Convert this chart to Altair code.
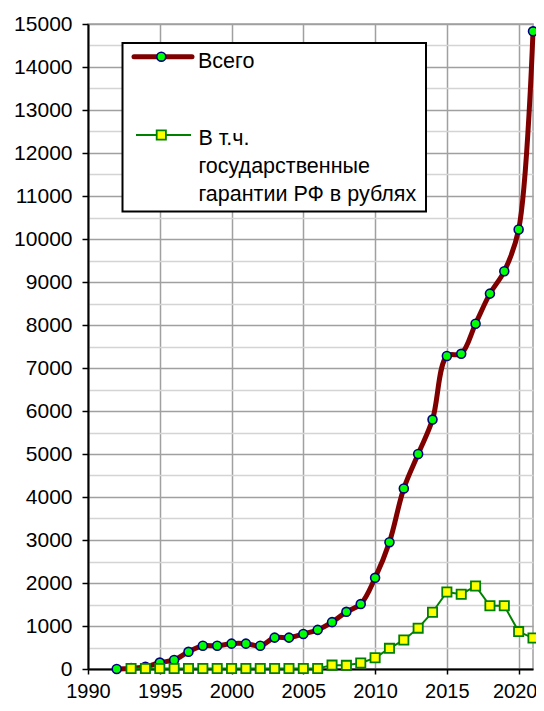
import altair as alt
import pandas as pd

# ---- data ----
years_total = list(range(1992, 2022))
total = [0, 20, 50, 150, 210, 400, 540, 540, 590, 590, 540, 730, 730, 815, 910,
         1090, 1330, 1510, 2120, 2950, 4200, 5000, 5800, 7280, 7330, 8030, 8730,
         9250, 10220, 14830]

years_guar = list(range(1993, 2022))
guarantees = [10, 10, 10, 10, 10, 10, 10, 10, 10, 10, 10, 10, 10, 10,
              90, 85, 140, 260, 480, 675, 950, 1320, 1790, 1740, 1930, 1470,
              1470, 870, 720]

x_ticks = [1990, 1995, 2000, 2005, 2010, 2015, 2020]
y_ticks = list(range(0, 15001, 500))

legend_total = "Всего"
legend_guar = ["В т.ч.", "государственные", "гарантии РФ в рублях"]

df_total = pd.DataFrame({"year": years_total, "value": total})
df_guar = pd.DataFrame({"year": years_guar, "value": guarantees})
one = pd.DataFrame({"k": [0]})

FONT = "Liberation Sans"
major = "datum.value % 1000 === 0"

X = alt.X(
    "year:Q",
    scale=alt.Scale(domain=[1990, 2021], nice=False, zero=False),
    axis=alt.Axis(
        values=x_ticks, format="d", title=None,
        labelFont=FONT, labelFontSize=20, labelColor="black",
        labelFlush=False, labelOverlap=False,
        labelBaseline="alphabetic", labelPadding=23,
        labelOffset={"condition": {"test": "datum.value === 2020", "value": -4}, "value": 0},
        tickSize=5, tickColor="black", tickWidth=1.5,
        domainColor="black", domainWidth=2,
        grid=True, gridColor="#a0a0a0", gridWidth=1.5,
    ),
)
Y = alt.Y(
    "value:Q",
    scale=alt.Scale(domain=[0, 15000], nice=False),
    axis=alt.Axis(
        values=y_ticks, format="d", title=None,
        labelExpr=f"{major} ? datum.label : ''",
        labelFont=FONT, labelFontSize=21, labelColor="black",
        labelPadding=10, labelOverlap=False,
        tickSize=6, tickColor="black", tickWidth=1.5,
        tickOpacity={"condition": {"test": major, "value": 1}, "value": 0},
        domainColor="black", domainWidth=2,
        grid=True, gridWidth=1.5,
        gridColor={"condition": {"test": major, "value": "#a0a0a0"}, "value": "#d4d4d4"},
    ),
)

red_line = alt.Chart(df_total).mark_line(
    color="#800000", strokeWidth=5, interpolate="catmull-rom"
).encode(x=X, y=Y)
red_pts = alt.Chart(df_total).mark_point(
    shape="circle", filled=True, fill="#00ff00", stroke="#000080",
    strokeWidth=1.6, size=80, opacity=1
).encode(x=X, y=Y)
green_line = alt.Chart(df_guar).mark_line(
    color="#008000", strokeWidth=2
).encode(x=X, y=Y)
green_pts = alt.Chart(df_guar).mark_point(
    shape="square", filled=True, fill="#ffff00", stroke="#008000",
    strokeWidth=1.8, size=85, opacity=1
).encode(x=X, y=Y)

# ---- custom legend box ----
leg_box = alt.Chart(one).mark_rect(
    fill="white", stroke="black", strokeWidth=2
).encode(x=alt.value(34.5), x2=alt.value(338), y=alt.value(19), y2=alt.value(187.5))
leg_line1 = alt.Chart(one).mark_rule(
    color="#800000", strokeWidth=5, strokeCap="round"
).encode(x=alt.value(46), x2=alt.value(104), y=alt.value(32.7))
leg_pt1 = alt.Chart(one).mark_point(
    shape="circle", filled=True, fill="#00ff00", stroke="#000080",
    strokeWidth=1.6, size=80, opacity=1
).encode(x=alt.value(73.3), y=alt.value(32.7))
leg_txt1 = alt.Chart(one).mark_text(
    font=FONT, fontSize=21.5, align="left", baseline="alphabetic", color="black"
).encode(x=alt.value(110), y=alt.value(44), text=alt.value(legend_total))
leg_line2 = alt.Chart(one).mark_rule(
    color="#008000", strokeWidth=2
).encode(x=alt.value(48), x2=alt.value(103), y=alt.value(111))
leg_pt2 = alt.Chart(one).mark_point(
    shape="square", filled=True, fill="#ffff00", stroke="#008000",
    strokeWidth=1.8, size=85, opacity=1
).encode(x=alt.value(73.3), y=alt.value(111))
leg_txt2 = alt.Chart(one).mark_text(
    font=FONT, fontSize=21.5, align="left", baseline="alphabetic", color="black",
    lineHeight=28.4
).encode(x=alt.value(110.5), y=alt.value(120.5), text=alt.value(legend_guar))

chart = alt.layer(
    red_line, red_pts, green_line, green_pts,
    leg_box, leg_line1, leg_pt1, leg_txt1, leg_line2, leg_pt2, leg_txt2,
).properties(
    width=445, height=645,
    autosize=alt.AutoSizeParams(type="none"),
    padding={"left": 80, "top": 16, "right": 3, "bottom": 34},
    background="white",
).configure_view(stroke="#a0a0a0", strokeWidth=1.5)

chart.save("out.html", embed_options={"renderer": "svg", "actions": False})
